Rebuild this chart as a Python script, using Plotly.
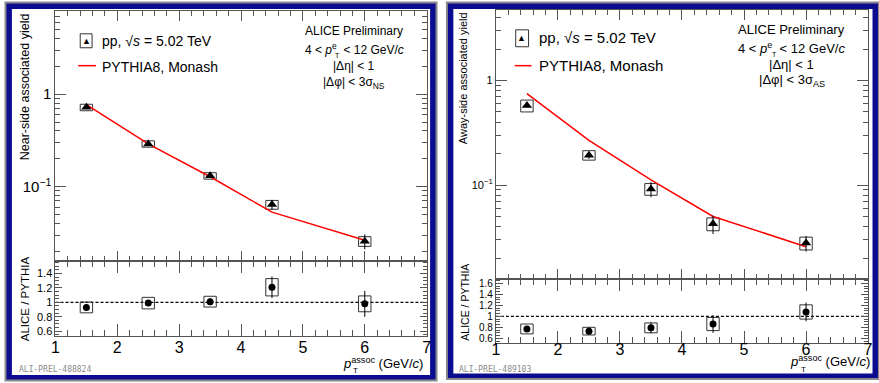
import plotly.graph_objects as go

# ---------------- data ----------------
pt = [1.5, 2.5, 3.5, 4.5, 6.0]

ns_yield = [0.72, 0.29, 0.131, 0.064, 0.0257]
ns_stat = [0.025, 0.012, 0.006, 0.0077, 0.0047]
ns_sys = [0.058, 0.023, 0.0105, 0.007, 0.0031]
ns_pythia = [0.77, 0.29, 0.128, 0.053, 0.0263]
ns_ratio = [0.93, 0.99, 1.01, 1.21, 0.98]
ns_ratio_stat = [0.045, 0.04, 0.05, 0.15, 0.18]
ns_ratio_sys = [0.075, 0.08, 0.075, 0.12, 0.11]

as_yield = [0.575, 0.193, 0.0915, 0.0425, 0.0278]
as_stat = [0.02, 0.015, 0.015, 0.0085, 0.0047]
as_sys = [0.075, 0.02, 0.0117, 0.006, 0.0039]
as_pythia = [0.75, 0.268, 0.112, 0.050, 0.0257]
as_ratio = [0.77, 0.73, 0.79, 0.86, 1.08]
as_ratio_stat = [0.04, 0.07, 0.10, 0.16, 0.17]
as_ratio_sys = [0.09, 0.07, 0.09, 0.12, 0.13]

x_ticks = [1, 2, 3, 4, 5, 6, 7]
ratio_ticks_ns = [0.6, 0.8, 1.0, 1.2, 1.4]
ratio_ticks_as = [0.6, 0.8, 1.0, 1.2, 1.4, 1.6]

# ---------------- geometry helpers ----------------
W, H = 879, 383
FONT = "Liberation Sans"
AX = "#555555"
BW = 0.1  # half width of systematic boxes


def px(x):
    return x / W


def py(y):
    return 1 - y / H


def boxes(xv, yv, sv):
    xs, ys = [], []
    for xi, yi, si in zip(xv, yv, sv):
        xs += [xi - BW, xi + BW, xi + BW, xi - BW, xi - BW, None]
        ys += [yi - si, yi - si, yi + si, yi + si, yi - si, None]
    return xs, ys


fig = go.Figure()


def add_panel(xa, ya_top, ya_rat, y, stat, sys, pyth, ratio, rstat, rsys):
    bx, by = boxes(pt, y, sys)
    fig.add_trace(go.Scatter(x=bx, y=by, mode="lines", line=dict(color="#333333", width=1),
                             xaxis=xa[0], yaxis=ya_top, showlegend=False, hoverinfo="skip"))
    fig.add_trace(go.Scatter(x=pt, y=pyth, mode="lines", line=dict(color="#ff0000", width=1.5),
                             xaxis=xa[0], yaxis=ya_top, showlegend=False))
    fig.add_trace(go.Scatter(x=pt, y=y, mode="markers",
                             marker=dict(symbol="triangle-up", size=9, color="black"),
                             error_y=dict(type="data", array=stat, color="black", thickness=1, width=0),
                             xaxis=xa[0], yaxis=ya_top, showlegend=False))
    rbx, rby = boxes(pt, ratio, rsys)
    fig.add_trace(go.Scatter(x=[1, 7], y=[1, 1], mode="lines",
                             line=dict(color="black", width=1.3, dash="3px,2px"),
                             xaxis=xa[1], yaxis=ya_rat, showlegend=False, hoverinfo="skip"))
    fig.add_trace(go.Scatter(x=rbx, y=rby, mode="lines", line=dict(color="#333333", width=1),
                             xaxis=xa[1], yaxis=ya_rat, showlegend=False, hoverinfo="skip"))
    fig.add_trace(go.Scatter(x=pt, y=ratio, mode="markers",
                             marker=dict(symbol="circle", size=7, color="black"),
                             error_y=dict(type="data", array=rstat, color="black", thickness=1, width=0),
                             xaxis=xa[1], yaxis=ya_rat, showlegend=False))


add_panel(("x", "x2"), "y", "y2", ns_yield, ns_stat, ns_sys, ns_pythia, ns_ratio, ns_ratio_stat, ns_ratio_sys)
add_panel(("x3", "x4"), "y3", "y4", as_yield, as_stat, as_sys, as_pythia, as_ratio, as_ratio_stat, as_ratio_sys)

common_x = dict(range=[1, 7], showline=True, linecolor=AX, linewidth=1, mirror="allticks",
                ticks="inside", tickcolor=AX, showgrid=False, zeroline=False,
                tickvals=x_ticks, ticktext=[str(v) for v in x_ticks],
                tickfont=dict(family=FONT, size=16, color="black"))


def xaxis(dom, anchor, labels, ticklen, standoff=0):
    d = dict(common_x)
    d.update(domain=dom, anchor=anchor, showticklabels=labels, ticklen=ticklen,
             ticklabelstandoff=standoff,
             minor=dict(ticks="inside", ticklen=ticklen // 2, dtick=0.2, tickcolor=AX, showgrid=False))
    return d


def ylog(dom, anchor, rng, fsize, ticklen):
    return dict(domain=dom, anchor=anchor, type="log", range=rng, showline=True, linecolor=AX,
                linewidth=1, mirror="allticks", ticks="inside", tickcolor=AX, ticklen=ticklen,
                showgrid=False, zeroline=False, tickmode="array", tickvals=[0.1, 1],
                ticktext=["10<sup>−1</sup>", "1"],
                tickfont=dict(family=FONT, size=fsize, color="black"),
                minor=dict(ticks="inside", ticklen=ticklen // 2, dtick="D1", tickcolor=AX, showgrid=False))


def ylin(dom, anchor, rng, vals, fsize, ticklen):
    return dict(domain=dom, anchor=anchor, range=rng, showline=True, linecolor=AX, linewidth=1,
                mirror="allticks", ticks="inside", tickcolor=AX, ticklen=ticklen, showgrid=False,
                zeroline=False, tickmode="array", tickvals=vals,
                ticktext=[("%g" % v) for v in vals],
                tickfont=dict(family=FONT, size=fsize, color="black"),
                minor=dict(ticks="inside", ticklen=4, dtick=0.05, tickcolor=AX, showgrid=False))


LX = [px(52), px(427)]
RX = [px(497), px(873)]

fig.update_layout(
    xaxis=xaxis(LX, "y", False, 10),
    yaxis=ylog([py(261), py(10)], "x", [-1.8, 0.9], 15, 11),
    xaxis2=xaxis(LX, "y2", True, 12, -3),
    yaxis2=ylin([py(337), py(261)], "x2", [0.53, 1.58], ratio_ticks_ns, 11, 7),
    xaxis3=xaxis(RX, "y3", False, 10),
    yaxis3=ylog([py(279), py(9)], "x3", [-1.895, 0.675], 11, 11),
    xaxis4=xaxis(RX, "y4", True, 12, -8),
    yaxis4=ylin([py(344), py(279)], "x4", [0.51, 1.69], ratio_ticks_as, 10, 7),
)

# ---------------- frames ----------------
shapes = []
for (x0, x1, y0, y1) in [(0.5, 438, 0.5, 382.5), (446.5, 885, 0.5, 381)]:
    shapes.append(dict(type="rect", xref="paper", yref="paper", x0=px(x0), x1=px(x1), y0=py(y1), y1=py(y0),
                       fillcolor="#8a8a8a", line=dict(width=0), layer="below"))
    shapes.append(dict(type="rect", xref="paper", yref="paper", x0=px(x0 + 2), x1=px(x1 - 2), y0=py(y1 - 2), y1=py(y0 + 2),
                       fillcolor="#0c0c90", line=dict(width=0), layer="below"))
    shapes.append(dict(type="rect", xref="paper", yref="paper", x0=px(x0 + 7.5), x1=px(x1 - 7.5), y0=py(y1 - 6.5), y1=py(y0 + 7.5),
                       fillcolor="white", line=dict(width=0), layer="below"))

# legend symbols
for (bx0, bx1, by0, by1, lx0, lx1, ly) in [(77, 89, 33, 47, 75, 93, 65), (517, 530, 29, 46, 516, 533, 65)]:
    shapes.append(dict(type="rect", xref="paper", yref="paper", x0=px(bx0), x1=px(bx1), y0=py(by1), y1=py(by0),
                       line=dict(color="#333333", width=1), fillcolor="rgba(0,0,0,0)"))
    shapes.append(dict(type="line", xref="paper", yref="paper", x0=px(lx0), x1=px(lx1), y0=py(ly), y1=py(ly),
                       line=dict(color="#ff0000", width=1.5)))

ann = []


def text(x, y, s, size, xanchor="left", yanchor="middle", angle=0, color="black", family=FONT):
    ann.append(dict(x=px(x), y=py(y), xref="paper", yref="paper", text=s, showarrow=False,
                    xanchor=xanchor, yanchor=yanchor, textangle=angle,
                    font=dict(family=family, size=size, color=color)))


# left panel texts
text(83, 40.5, "▲", 9, "center")
text(97, 40, "pp, √<i>s</i> = 5.02 TeV", 14)
text(97, 66, "PYTHIA8, Monash", 14)
text(354, 30, "ALICE Preliminary", 12, "center")
text(354, 48, "4 < <i>p</i><sup>e</sup>  < 12 GeV/<i>c</i>", 12, "center")
text(337, 55, "T", 7, "center")
text(354, 65, "|Δη| < 1", 12, "center")
text(354, 82, "|Δφ| < 3σ<sub>NS</sub>", 12, "center")
text(22, 10, "Near-side associated yield", 12.5, "center", "top", -90)
text(22, 299, "ALICE / PYTHIA", 11.5, "center", "middle", -90)
text(425, 364, "<i>p</i><sup>assoc</sup> (GeV/<i>c</i>)", 13, "right")
text(355, 371, "T", 8, "center")
text(13, 370, "ALI-PREL-488824", 8, "left", "middle", 0, "#8a8a8a", "DejaVu Sans Mono")

# right panel texts
text(523, 37.5, "▲", 9, "center")
text(539, 37, "pp, √<i>s</i> = 5.02 TeV", 15)
text(539, 65, "PYTHIA8, Monash", 15)
text(796, 29, "ALICE Preliminary", 13, "center")
text(796, 47, "4 < <i>p</i><sup>e</sup>  < 12 GeV/<i>c</i>", 13, "center")
text(778, 54, "T", 7, "center")
text(796, 64, "|Δη| < 1", 13, "center")
text(796, 80, "|Δφ| < 3σ<sub>AS</sub>", 13, "center")
text(464, 9, "Away-side associated yield", 11, "center", "top", -90)
text(466, 303, "ALICE / PYTHIA", 10.5, "center", "middle", -90)
text(877, 362, "<i>p</i><sup>assoc</sup> (GeV/<i>c</i>)", 13, "right")
text(808, 370, "T", 8, "center")
text(458, 370, "ALI-PREL-489103", 8, "left", "middle", 0, "#8a8a8a", "DejaVu Sans Mono")

fig.update_layout(width=W, height=H, margin=dict(l=0, r=0, t=0, b=0),
                  paper_bgcolor="white", plot_bgcolor="rgba(0,0,0,0)",
                  shapes=shapes, annotations=ann, showlegend=False,
                  font=dict(family=FONT))

fig.write_html("out.html")
